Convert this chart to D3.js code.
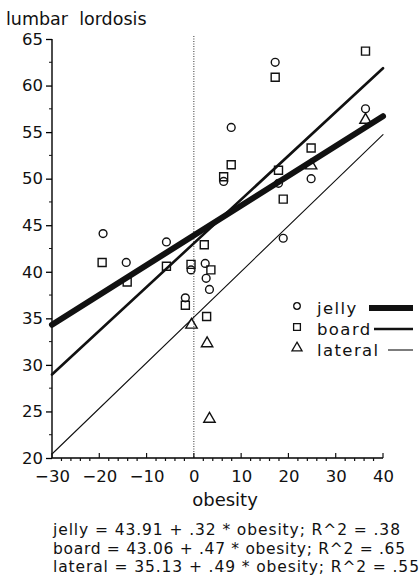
<!DOCTYPE html>
<html>
<head>
<meta charset="utf-8">
<script src="https://cdn.jsdelivr.net/npm/d3@7"></script>
<style>
  body { margin: 0; background: #fff; }
  svg { display: block; }
  text { font-family: "DejaVu Sans", sans-serif; fill: #111; }
</style>
</head>
<body>
<svg width="419" height="586"></svg>
<script>
/* data */
var jellyX = [-19.2, -14.3, -5.8, -0.6, -1.8, 2.4, 2.6, 3.3, 7.9, 6.3, 17.2, 17.9, 18.9, 24.8, 36.3];
var jellyY = [44.1, 41.0, 43.2, 40.2, 37.2, 40.9, 39.3, 38.1, 55.5, 49.7, 62.5, 49.5, 43.6, 50.0, 57.5];

var boardX = [-19.4, -14.1, -5.8, -0.6, -1.8, 2.2, 3.6, 2.7, 7.9, 6.3, 17.2, 17.9, 18.9, 24.8, 36.3];
var boardY = [41.0, 38.9, 40.6, 40.8, 36.4, 42.9, 40.2, 35.2, 51.5, 50.2, 60.9, 50.9, 47.8, 53.3, 63.7];

var lateralX = [-0.5, 2.8, 3.3, 24.8, 36.3];
var lateralY = [34.3, 32.3, 24.2, 51.4, 56.3];

// fitted lines: name, intercept, slope, R^2
var fitNames = ["jelly", "board", "lateral"];
var fitIntercepts = [43.91, 43.06, 35.13];
var fitSlopes = [0.32, 0.47, 0.49];
var fitR2 = [".38", ".65", ".55"];
var fitWidths = [6, 2.6, 1.1];

var xTicks = [-30, -20, -10, 0, 10, 20, 30, 40];
var yTicks = [20, 25, 30, 35, 40, 45, 50, 55, 60, 65];

var svg = d3.select("svg");

var x = d3.scaleLinear().domain([-30, 40]).range([52, 383]);
var y = d3.scaleLinear().domain([20, 65]).range([458, 39]);

/* zero reference line */
svg.append("line")
    .attr("x1", x(0)).attr("x2", x(0))
    .attr("y1", y(65) - 3).attr("y2", y(20))
    .attr("stroke", "#333")
    .attr("stroke-width", 1)
    .attr("stroke-dasharray", "1,1.5");

/* axes */
var yAxis = svg.append("g")
    .attr("transform", "translate(" + x(-30) + ",0)")
    .call(d3.axisLeft(y).tickValues(yTicks).tickSize(6).tickPadding(3));
yAxis.select(".domain").attr("d", "M0," + y(20) + "V" + y(65)).attr("stroke-width", 1.4);
yAxis.selectAll(".tick line").attr("stroke-width", 1.3);
yAxis.selectAll("text").style("font-size", "16.5px");

svg.append("g")
    .attr("transform", "translate(" + x(-30) + ",0)")
    .selectAll("line")
    .data(d3.range(22.5, 65, 5))
    .enter().append("line")
    .attr("x1", -3).attr("x2", 0)
    .attr("y1", function (d) { return y(d); })
    .attr("y2", function (d) { return y(d); })
    .attr("stroke", "#111");

var xAxis = svg.append("g")
    .attr("transform", "translate(0," + y(20) + ")")
    .call(d3.axisBottom(x).tickValues(xTicks).tickSize(0).tickPadding(12));
xAxis.select(".domain").attr("d", "M" + x(-30) + ",0H" + x(40)).attr("stroke-width", 1.4);
xAxis.selectAll("text").style("font-size", "16.5px");

// major ticks go up, minor ones hang below
svg.append("g")
    .attr("transform", "translate(0," + y(20) + ")")
    .selectAll("line")
    .data(d3.range(-30, 41, 2))
    .enter().append("line")
    .attr("x1", function (d) { return x(d); })
    .attr("x2", function (d) { return x(d); })
    .attr("y1", function (d) { return d % 10 === 0 ? -5 : 0; })
    .attr("y2", function (d) { return d % 10 === 0 ? 0 : 3; })
    .attr("stroke", "#111")
    .attr("stroke-width", 1.2);

/* axis titles */
svg.append("text")
    .attr("x", 6).attr("y", 25)
    .style("font-size", "17.5px")
    .attr("xml:space", "preserve")
    .text("lumbar  lordosis");

svg.append("text")
    .attr("x", 225).attr("y", 506)
    .attr("text-anchor", "middle")
    .style("font-size", "18px")
    .text("obesity");

/* regression lines */
svg.append("g").selectAll("line")
    .data(fitNames)
    .enter().append("line")
    .attr("x1", x(-30))
    .attr("x2", x(40))
    .attr("y1", function (d, i) { return y(fitIntercepts[i] + fitSlopes[i] * -30); })
    .attr("y2", function (d, i) { return y(fitIntercepts[i] + fitSlopes[i] * 40); })
    .attr("stroke", "#111")
    .attr("stroke-width", function (d, i) { return fitWidths[i]; })
    .attr("stroke-linecap", "round");

/* points */
var jelly = jellyX.map(function (v, i) { return {x: v, y: jellyY[i]}; });
var board = boardX.map(function (v, i) { return {x: v, y: boardY[i]}; });
var lateral = lateralX.map(function (v, i) { return {x: v, y: lateralY[i]}; });

function drawSymbols(pts, type, size) {
    svg.append("g").selectAll("path")
        .data(pts)
        .enter().append("path")
        .attr("transform", function (d) { return "translate(" + x(d.x) + "," + y(d.y) + ")"; })
        .attr("d", d3.symbol().type(type).size(size))
        .attr("fill", "none")
        .attr("stroke", "#111")
        .attr("stroke-width", 1.4);
}
drawSymbols(jelly, d3.symbolCircle, 48);
drawSymbols(board, d3.symbolSquare, 64);
drawSymbols(lateral, d3.symbolTriangle, 56);

/* legend */
var legendSymbols = [d3.symbolCircle, d3.symbolSquare, d3.symbolTriangle];
var legendSizes = [34, 46, 44];
var legendLineStart = [369, 374, 388];
var leg = svg.append("g");
fitNames.forEach(function (name, i) {
    var ly = 309 + i * 21;
    leg.append("path")
        .attr("transform", "translate(297," + (ly - 3) + ")")
        .attr("d", d3.symbol().type(legendSymbols[i]).size(legendSizes[i]))
        .attr("fill", "none")
        .attr("stroke", "#111")
        .attr("stroke-width", 1.3);
    leg.append("text")
        .attr("x", 317).attr("y", ly + 5)
        .style("font-size", "16.5px")
        .style("letter-spacing", "1.4px")
        .text(name);
    leg.append("line")
        .attr("x1", legendLineStart[i]).attr("x2", 413)
        .attr("y1", ly - 1).attr("y2", ly - 1)
        .attr("stroke", "#111")
        .attr("stroke-width", fitWidths[i]);
});

/* equations under the chart */
var eqWidths = [347, 352, 366];
svg.append("g").selectAll("text")
    .data(fitNames)
    .enter().append("text")
    .attr("x", 53)
    .attr("y", function (d, i) { return 535 + i * 18.5; })
    .style("font-size", "15.5px")
    .attr("textLength", function (d, i) { return eqWidths[i]; })
    .attr("lengthAdjust", "spacing")
    .text(function (d, i) {
        return d + " = " + fitIntercepts[i].toFixed(2) + " + ." + Math.round(fitSlopes[i] * 100) +
            " * obesity; R^2 = " + fitR2[i];
    });
</script>
</body>
</html>
